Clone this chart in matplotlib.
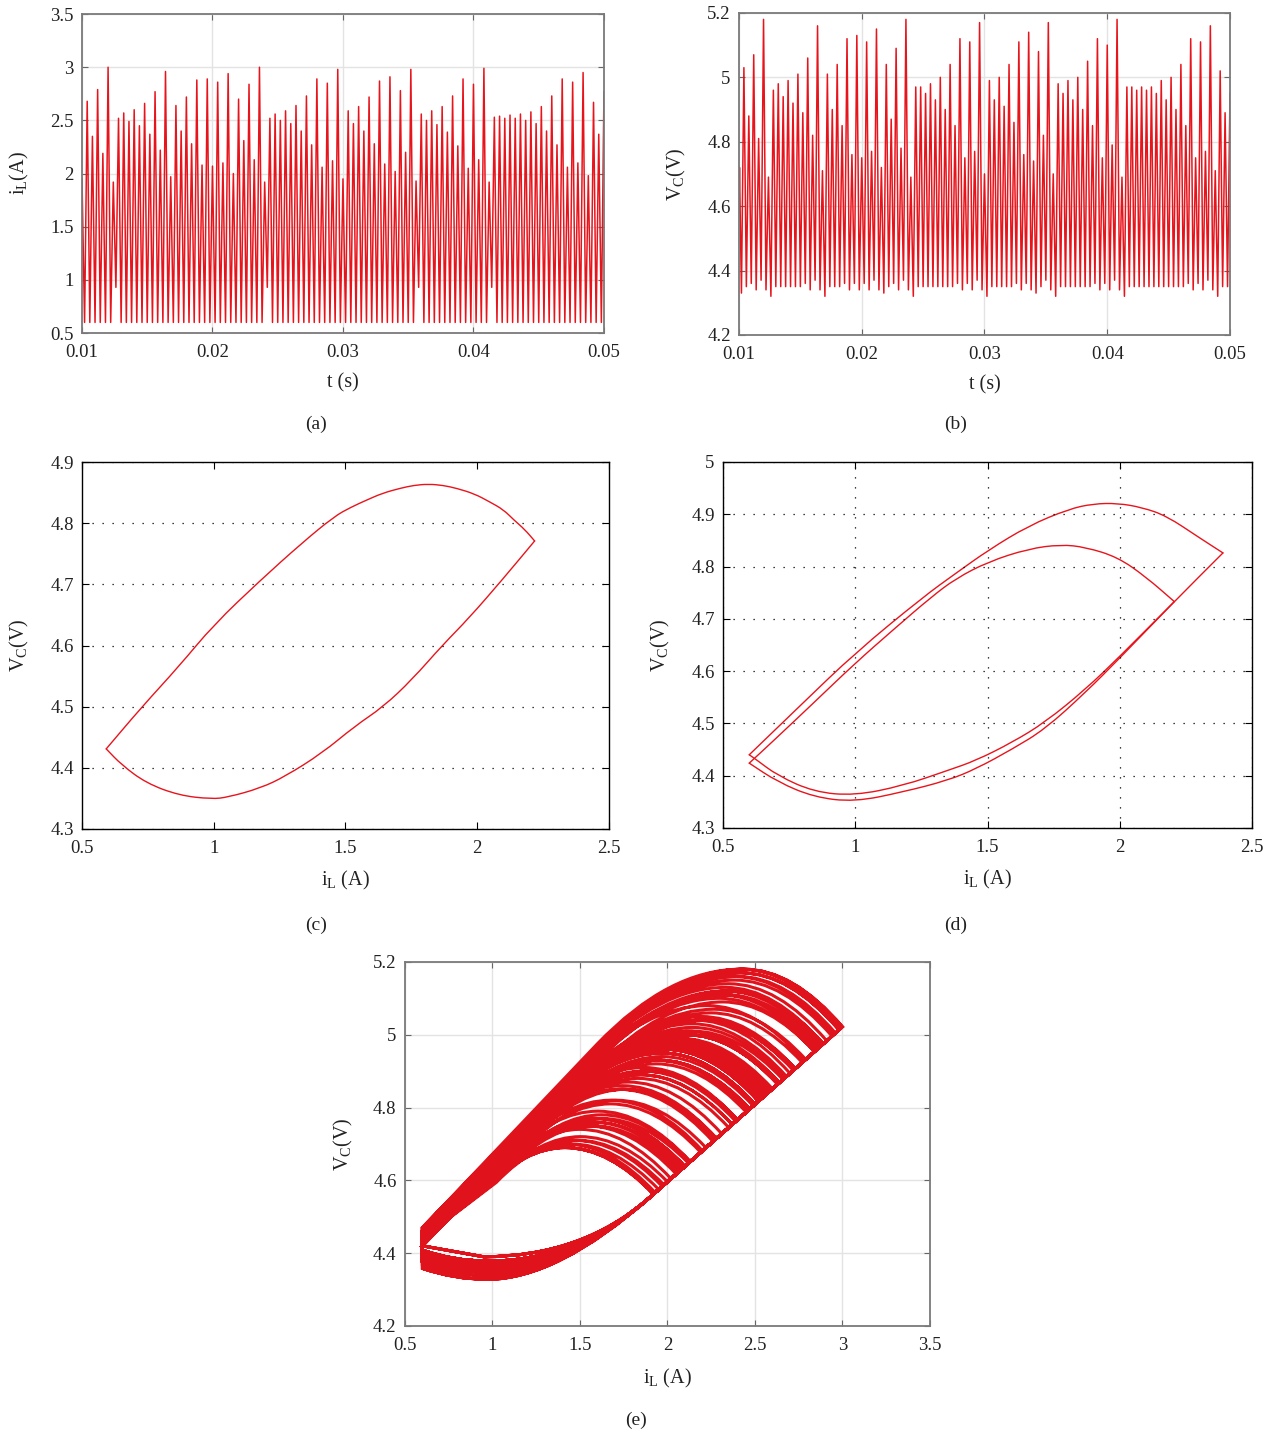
import numpy as np
import matplotlib
matplotlib.use("Agg")
import matplotlib.pyplot as plt
from matplotlib.path import Path
from matplotlib.patches import PathPatch
from matplotlib.ticker import FuncFormatter

plt.rcParams['font.family'] = ['Liberation Serif', 'DejaVu Serif']
plt.rcParams['mathtext.fontset'] = 'custom'
plt.rcParams['mathtext.rm'] = 'Liberation Serif'
plt.rcParams['mathtext.it'] = 'Liberation Serif:italic'

RED = '#e8141c'

# ---------------- (a), (b): one peak per switching cycle
T_FIRST_PEAK = 0.0104
T_PERIOD = 0.0004

IL_START = 1.95
IL_PEAKS = [2.68, 2.35, 2.79, 2.19, 3.00, 1.92, 2.52, 2.57, 2.49, 2.60,
            2.45, 2.66, 2.37, 2.77, 2.22, 2.96, 1.97, 2.64, 2.40, 2.72,
            2.28, 2.88, 2.08, 2.89, 2.07, 2.86, 2.10, 2.94, 2.00, 2.70,
            2.31, 2.84, 2.13, 3.00, 1.92, 2.52, 2.56, 2.50, 2.59, 2.47,
            2.64, 2.40, 2.73, 2.27, 2.89, 2.06, 2.85, 2.12, 2.98, 1.95,
            2.59, 2.47, 2.63, 2.40, 2.72, 2.28, 2.87, 2.09, 2.91, 2.02,
            2.78, 2.20, 2.98, 1.93, 2.56, 2.50, 2.59, 2.46, 2.63, 2.39,
            2.73, 2.26, 2.89, 2.05, 2.84, 2.13, 2.99, 1.92, 2.53, 2.54,
            2.52, 2.55, 2.52, 2.56, 2.50, 2.58, 2.47, 2.63, 2.40, 2.73,
            2.27, 2.89, 2.06, 2.86, 2.10, 2.95, 1.98, 2.67, 2.37]
IL_END = 2.77
IL_VALLEY = 0.6
# cycles whose preceding current valley stays at 0.93 A
IL_HIGH_VALLEY_CYCLES = [6, 35, 64, 78]
IL_HIGH_VALLEY = 0.93

VC_START = [4.58, 4.72]
VC_PEAKS = [5.03, 4.88, 5.07, 4.81, 5.18, 4.69, 4.96, 4.98, 4.94, 4.99,
            4.92, 5.01, 4.89, 5.06, 4.82, 5.16, 4.71, 5.01, 4.90, 5.04,
            4.85, 5.12, 4.76, 5.13, 4.75, 5.11, 4.77, 5.15, 4.72, 5.04,
            4.87, 5.09, 4.78, 5.18, 4.69, 4.97, 4.97, 4.95, 4.98, 4.93,
            5.00, 4.90, 5.04, 4.85, 5.12, 4.75, 5.11, 4.77, 5.17, 4.70,
            4.99, 4.93, 5.00, 4.91, 5.04, 4.86, 5.11, 4.76, 5.14, 4.74,
            5.08, 4.82, 5.17, 4.70, 4.98, 4.95, 4.99, 4.93, 5.00, 4.90,
            5.05, 4.85, 5.12, 4.75, 5.10, 4.79, 5.18, 4.69, 4.97, 4.97,
            4.96, 4.97, 4.96, 4.97, 4.95, 4.99, 4.93, 5.00, 4.90, 5.04,
            4.85, 5.12, 4.75, 5.11, 4.77, 5.16, 4.71, 5.02, 4.89]
VC_VALLEYS = [4.33, 4.35, 4.36, 4.34, 4.37, 4.34, 4.32, 4.35, 4.35, 4.35,
              4.35, 4.35, 4.35, 4.36, 4.34, 4.37, 4.34, 4.32, 4.35, 4.35,
              4.35, 4.36, 4.34, 4.36, 4.34, 4.36, 4.34, 4.37, 4.34, 4.33,
              4.35, 4.36, 4.34, 4.37, 4.34, 4.32, 4.35, 4.35, 4.35, 4.35,
              4.35, 4.35, 4.35, 4.35, 4.36, 4.34, 4.36, 4.34, 4.37, 4.34,
              4.32, 4.35, 4.35, 4.35, 4.35, 4.35, 4.36, 4.34, 4.36, 4.34,
              4.33, 4.35, 4.37, 4.34, 4.32, 4.35, 4.35, 4.35, 4.35, 4.35,
              4.35, 4.35, 4.36, 4.34, 4.36, 4.34, 4.37, 4.34, 4.32, 4.35,
              4.35, 4.35, 4.35, 4.35, 4.35, 4.35, 4.35, 4.35, 4.35, 4.35,
              4.35, 4.36, 4.34, 4.36, 4.34, 4.37, 4.34, 4.32, 4.35, 4.35]
VC_END = 4.95

# ---------------- (c): period-1 orbit (upper branch, then lower branch)
C_UP_I = [0.592, 0.728, 0.868, 1.000, 1.178, 1.333, 1.457, 1.520, 1.581, 1.640,
          1.706, 1.760, 1.814, 1.870, 1.923, 1.990, 2.047, 2.100, 2.140, 2.180,
          2.218]
C_UP_V = [4.431, 4.500, 4.566, 4.634, 4.707, 4.767, 4.811, 4.826, 4.838, 4.849,
          4.857, 4.862, 4.864, 4.862, 4.857, 4.848, 4.835, 4.822, 4.805, 4.790,
          4.771]
C_LO_I = [2.218, 2.094, 1.969, 1.869, 1.752, 1.644, 1.535, 1.411, 1.271, 1.178,
          1.054, 0.992, 0.868, 0.744, 0.650, 0.592]
C_LO_V = [4.771, 4.707, 4.645, 4.601, 4.544, 4.500, 4.468, 4.424, 4.386, 4.367,
          4.352, 4.349, 4.355, 4.375, 4.405, 4.431]

# ---------------- (d): period-2 orbit (two cycles, each upper + lower branch)
D1_UP_I = [0.599, 0.800, 1.000, 1.257, 1.380, 1.502, 1.655, 1.808, 1.900, 1.992,
           2.084, 2.176, 2.298, 2.390]
D1_UP_V = [4.440, 4.538, 4.635, 4.742, 4.787, 4.831, 4.878, 4.910, 4.920, 4.921,
           4.913, 4.897, 4.856, 4.826]
D1_LO_I = [2.390, 2.206, 2.000, 1.870, 1.717, 1.594, 1.456, 1.349, 1.181, 0.997,
           0.844, 0.707, 0.599]
D1_LO_V = [4.826, 4.733, 4.625, 4.559, 4.489, 4.451, 4.413, 4.391, 4.369, 4.350,
           4.359, 4.388, 4.424]
D2_UP_I = [0.599, 0.691, 0.844, 0.997, 1.150, 1.288, 1.380, 1.502, 1.655, 1.778,
           1.870, 1.992, 2.099, 2.206]
D2_UP_V = [4.424, 4.467, 4.540, 4.614, 4.682, 4.742, 4.777, 4.809, 4.834, 4.842,
           4.837, 4.818, 4.780, 4.733]
D2_LO_I = [2.206, 2.000, 1.870, 1.717, 1.594, 1.456, 1.349, 1.181, 0.997, 0.844,
           0.707, 0.622, 0.599]
D2_LO_V = [4.733, 4.628, 4.565, 4.502, 4.464, 4.429, 4.410, 4.381, 4.362, 4.369,
           4.400, 4.432, 4.440]

# ---------------- (e): shape of the chaotic orbit
EDGE_I = [1.88, 3.02]          # straight edge where the arcs end
EDGE_V = [4.545, 5.03]
ARC_VP = [4.69, 5.19]          # arc height -> curvature of its left side
ARC_LEFT_CURV = [0.55, 0.30]
ARC_RIGHT_CURV = 0.5
RISE_SLOPE = 0.5
LOWER_START_I = 1.9
LOWER_MIN_I = 0.97
LOWER_OFFSET = 0.008
LEFT_I = 0.6
RISE_OFFSET = 0.10
RETURN_OFFSET = 0.03
WEDGE_TIP = (0.95, 4.39)


def fmt(v, pos):
    return f'{round(v, 3):g}'


def matlab_style(ax):
    for s in ax.spines.values():
        s.set_color('#7a7a7a')
        s.set_linewidth(1.3)
    ax.tick_params(direction='in', top=True, right=True, length=4,
                   color='#666666', labelsize=13.5, labelcolor='#222222')
    ax.tick_params(axis='x', pad=8)
    ax.tick_params(axis='y', pad=6)
    ax.grid(True, color='#e3e3e3', linewidth=1.0)
    ax.set_axisbelow(True)
    ax.xaxis.set_major_formatter(FuncFormatter(fmt))
    ax.yaxis.set_major_formatter(FuncFormatter(fmt))


def dotted_style(ax, vertical):
    for s in ax.spines.values():
        s.set_color('black')
        s.set_linewidth(1.0)
    ax.tick_params(direction='in', top=True, right=True, length=5,
                   color='black', labelsize=13.5, labelcolor='#222222')
    ax.tick_params(axis='x', pad=8)
    ax.tick_params(axis='y', pad=6)
    ax.grid(True, axis='y', color='black', linewidth=0.9, linestyle=(0, (1, 7)))
    if vertical:
        ax.grid(True, axis='x', color='black', linewidth=0.9, linestyle=(0, (1, 7)))
    ax.xaxis.set_major_formatter(FuncFormatter(fmt))
    ax.yaxis.set_major_formatter(FuncFormatter(fmt))


def set_labels(ax, xl, yl, xpos, ypos):
    ax.set_xlabel(xl, fontsize=14.5, color='#222222')
    ax.set_ylabel(yl, fontsize=14.5, color='#222222')
    ax.xaxis.label.set_va('center')
    ax.yaxis.label.set_va('center')
    ax.xaxis.set_label_coords(0.5, xpos)
    ax.yaxis.set_label_coords(ypos, 0.5)


def branch(ax, xs, ys):
    # smooth curve through the read points: quadratic pieces between midpoints
    pts = list(zip(xs, ys))
    verts = [pts[0], ((pts[0][0] + pts[1][0]) / 2, (pts[0][1] + pts[1][1]) / 2)]
    codes = [Path.MOVETO, Path.LINETO]
    for j in range(1, len(pts) - 1):
        mid = ((pts[j][0] + pts[j + 1][0]) / 2, (pts[j][1] + pts[j + 1][1]) / 2)
        verts += [pts[j], mid]
        codes += [Path.CURVE3, Path.CURVE3]
    verts.append(pts[-1])
    codes.append(Path.LINETO)
    ax.add_patch(PathPatch(Path(verts, codes), facecolor='none', edgecolor=RED,
                           lw=1.0, capstyle='round', joinstyle='round'))


IL_LABEL = r'$\mathrm{i_L}$(A)'
IL_LABEL_SP = r'$\mathrm{i_L}$ (A)'
VC_LABEL = r'$\mathrm{V_C}$(V)'

fig = plt.figure(figsize=(12.75, 14.35), dpi=100)

# ---- build the time traces
n = len(IL_PEAKS)
t_peaks = T_FIRST_PEAK + T_PERIOD * np.arange(n)
il_t, il_y = [0.01], [IL_START]
for k in range(n):
    valley = IL_HIGH_VALLEY if k in IL_HIGH_VALLEY_CYCLES else IL_VALLEY
    il_t += [t_peaks[k] - T_PERIOD / 2, t_peaks[k]]
    il_y += [valley, IL_PEAKS[k]]
il_t += [t_peaks[-1] + T_PERIOD / 2, 0.05]
il_y += [IL_VALLEY, IL_END]

vc_t, vc_y = [0.01, 0.01004], list(VC_START)
for k in range(n):
    vc_t += [t_peaks[k] - T_PERIOD / 2, t_peaks[k]]
    vc_y += [VC_VALLEYS[k], VC_PEAKS[k]]
vc_t += [t_peaks[-1] + T_PERIOD / 2, 0.05]
vc_y += [VC_VALLEYS[n], VC_END]

# (a)
ax = fig.add_axes([0.0643, 0.7679, 0.4094, 0.2223])
ax.plot(il_t, il_y, color=RED, lw=1.1)
ax.set_xlim(0.01, 0.05)
ax.set_ylim(0.5, 3.5)
ax.set_xticks(np.arange(0.01, 0.0501, 0.01))
ax.set_yticks(np.arange(0.5, 3.51, 0.5))
matlab_style(ax)
set_labels(ax, 't (s)', IL_LABEL, -0.157, -0.119)

# (b)
ax = fig.add_axes([0.5796, 0.7666, 0.3851, 0.2244])
ax.plot(vc_t, vc_y, color=RED, lw=1.1)
ax.set_xlim(0.01, 0.05)
ax.set_ylim(4.2, 5.2)
ax.set_xticks(np.arange(0.01, 0.0501, 0.01))
ax.set_yticks(np.arange(4.2, 5.21, 0.2))
matlab_style(ax)
set_labels(ax, 't (s)', VC_LABEL, -0.155, -0.128)

# (c)
ax = fig.add_axes([0.0643, 0.4223, 0.4133, 0.2557])
branch(ax, C_UP_I, C_UP_V)
branch(ax, C_LO_I, C_LO_V)
ax.set_xlim(0.5, 2.5)
ax.set_ylim(4.3, 4.9)
ax.set_xticks(np.arange(0.5, 2.51, 0.5))
ax.set_yticks(np.arange(4.3, 4.91, 0.1))
dotted_style(ax, vertical=False)
set_labels(ax, IL_LABEL_SP, VC_LABEL, -0.139, -0.118)

# (d)
ax = fig.add_axes([0.5671, 0.4230, 0.4149, 0.2551])
branch(ax, D1_UP_I, D1_UP_V)
branch(ax, D1_LO_I, D1_LO_V)
branch(ax, D2_UP_I, D2_UP_V)
branch(ax, D2_LO_I, D2_LO_V)
ax.set_xlim(0.5, 2.5)
ax.set_ylim(4.3, 5.0)
ax.set_xticks(np.arange(0.5, 2.51, 0.5))
ax.set_yticks(np.arange(4.3, 5.01, 0.1))
dotted_style(ax, vertical=True)
set_labels(ax, IL_LABEL_SP, VC_LABEL, -0.142, -0.119)

# (e): every cycle of (a)/(b) drawn as one loop of Bezier pieces
edge_slope = (EDGE_V[1] - EDGE_V[0]) / (EDGE_I[1] - EDGE_I[0])
f_v = float(np.interp(LOWER_START_I, EDGE_I, EDGE_V))
verts, codes = [], []
for k in range(n):
    a_v = VC_VALLEYS[k] + RISE_OFFSET
    verts.append((LEFT_I, a_v))
    codes.append(Path.MOVETO if k == 0 else Path.LINETO)
    ip, vp = IL_PEAKS[k], VC_PEAKS[k]
    ve = ip * edge_slope + (EDGE_V[0] - EDGE_I[0] * edge_slope)
    ipk = ip - np.sqrt(max(vp - ve, 0.01) / ARC_RIGHT_CURV)
    a_l = float(np.interp(vp, ARC_VP, ARC_LEFT_CURV))
    i_d = ipk - RISE_SLOPE / (2 * a_l)
    v_d = vp - RISE_SLOPE ** 2 / (4 * a_l)
    verts += [(i_d, v_d),
              ((i_d + ipk) / 2, vp), (ipk, vp),
              ((ipk + ip) / 2, vp), (ip, ve),
              (LOWER_START_I, f_v)]
    codes += [Path.LINETO, Path.CURVE3, Path.CURVE3, Path.CURVE3, Path.CURVE3,
              Path.LINETO]
    if k + 1 in IL_HIGH_VALLEY_CYCLES:
        tip_i, tip_v = WEDGE_TIP
        c_i = LOWER_START_I - (f_v - tip_v) / edge_slope
        verts += [(c_i, tip_v), (tip_i, tip_v)]
        codes += [Path.CURVE3, Path.CURVE3]
    else:
        vmin = VC_VALLEYS[k + 1] + LOWER_OFFSET
        c_i = LOWER_START_I - (f_v - vmin) / edge_slope
        verts += [(c_i, vmin), (LOWER_MIN_I, vmin),
                  ((LOWER_MIN_I + LEFT_I) / 2, vmin), (LEFT_I, vmin + RETURN_OFFSET)]
        codes += [Path.CURVE3] * 4

ax = fig.add_axes([0.3176, 0.0760, 0.4118, 0.2537])
ax.add_patch(PathPatch(Path(verts, codes), facecolor='none', edgecolor='#e0121c', lw=2.2))
ax.set_xlim(0.5, 3.5)
ax.set_ylim(4.2, 5.2)
ax.set_xticks(np.arange(0.5, 3.51, 0.5))
ax.set_yticks(np.arange(4.2, 5.21, 0.2))
matlab_style(ax)
set_labels(ax, IL_LABEL_SP, VC_LABEL, -0.143, -0.118)

# captions
for x, y, s in [(0.2478, 0.7045, '(a)'), (0.7498, 0.7045, '(b)'),
                (0.2478, 0.3554, '(c)'), (0.7498, 0.3554, '(d)'),
                (0.4988, 0.0105, '(e)')]:
    fig.text(x, y, s, ha='center', va='center', fontsize=14, color='#222222')

fig.savefig('out.png', dpi=100)
